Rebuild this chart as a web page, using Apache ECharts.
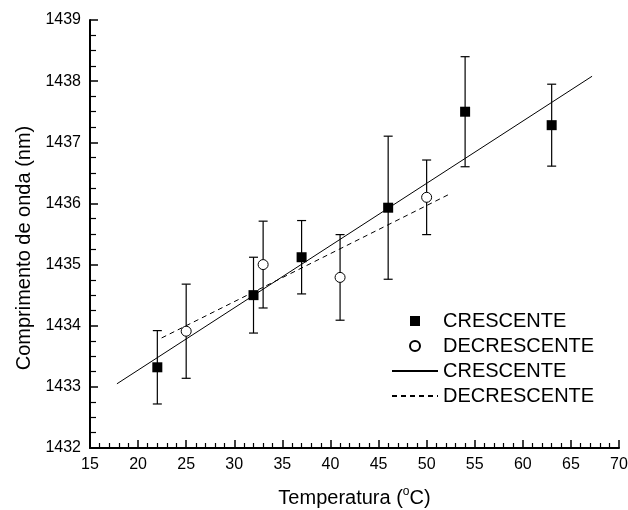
<!DOCTYPE html>
<html>
<head>
<meta charset="utf-8">
<script src="https://cdn.jsdelivr.net/npm/echarts@6/dist/echarts.min.js"></script>
<style>html,body{margin:0;padding:0;background:#fff;}#c{width:628px;height:510px;}</style>
</head>
<body>
<div id="c"></div>
<script>
// ---- data ----
const tempCres = [22, 32, 37, 46, 54, 63];
const waveCres = [1433.32, 1434.50, 1435.12, 1435.93, 1437.50, 1437.28];
const errCres  = [0.60, 0.62, 0.60, 1.17, 0.90, 0.67];

const tempDecr = [25, 33, 41, 50];
const waveDecr = [1433.91, 1435.00, 1434.79, 1436.10];
const errDecr  = [0.77, 0.71, 0.70, 0.61];

const fitCresX = [17.8, 67.2];
const fitCresY = [1433.05, 1438.08];
const fitDecrX = [22.45, 52.35];
const fitDecrY = [1433.80, 1436.15];

const xTicks = [15, 20, 25, 30, 35, 40, 45, 50, 55, 60, 65, 70];
const yTicks = [1432, 1433, 1434, 1435, 1436, 1437, 1438, 1439];

const FONT = 'Liberation Sans, Arial, sans-serif';

function pairs(xs, ys) { return xs.map((x, i) => [x, ys[i]]); }
function errData(xs, ys, es) { return xs.map((x, i) => [x, ys[i] - es[i], ys[i] + es[i]]); }

function renderErr(params, api) {
  const x = api.value(0);
  const lo = api.coord([x, api.value(1)]);
  const hi = api.coord([x, api.value(2)]);
  const hw = 4.5;
  const st = { stroke: '#000', lineWidth: 1.2 };
  return {
    type: 'group',
    children: [
      { type: 'line', shape: { x1: lo[0], y1: lo[1], x2: hi[0], y2: hi[1] }, style: st },
      { type: 'line', shape: { x1: lo[0] - hw, y1: lo[1], x2: lo[0] + hw, y2: lo[1] }, style: st },
      { type: 'line', shape: { x1: hi[0] - hw, y1: hi[1], x2: hi[0] + hw, y2: hi[1] }, style: st }
    ]
  };
}

const chart = echarts.init(document.getElementById('c'), null, { renderer: 'canvas' });

const axisCommon = {
  axisLine: { show: true, onZero: false, lineStyle: { color: '#000', width: 2 } },
  axisTick: { show: true, inside: true, length: 8, lineStyle: { color: '#000', width: 1.5 } },
  minorTick: { show: true, length: 5, lineStyle: { color: '#000', width: 1.2 } },
  splitLine: { show: false },
  axisLabel: { color: '#000', fontSize: 16, fontFamily: FONT, formatter: v => String(v) },
  nameLocation: 'middle',
  nameTextStyle: { color: '#000', fontSize: 20, fontFamily: FONT }
};

chart.setOption({
  animation: false,
  backgroundColor: '#fff',
  grid: { left: 90, right: 9, top: 20, bottom: 62, containLabel: false, outerBoundsMode: 'none' },
  xAxis: Object.assign({}, axisCommon, {
    type: 'value', min: xTicks[0], max: xTicks[xTicks.length - 1], interval: 5,
    minorTick: Object.assign({}, axisCommon.minorTick, { splitNumber: 5 }),
    axisLabel: Object.assign({}, axisCommon.axisLabel, { margin: 9 }),
    name: '{m|Temperatura (}{sup|o}{m|C)}',
    nameGap: 38,
    nameTextStyle: Object.assign({}, axisCommon.nameTextStyle, {
      rich: {
        m: { fontSize: 20, fontFamily: FONT, color: '#000', lineHeight: 22, verticalAlign: 'bottom' },
        sup: { fontSize: 12, fontFamily: FONT, color: '#000', lineHeight: 12, verticalAlign: 'top' }
      }
    })
  }),
  yAxis: Object.assign({}, axisCommon, {
    type: 'value', min: yTicks[0], max: yTicks[yTicks.length - 1], interval: 1,
    minorTick: Object.assign({}, axisCommon.minorTick, { splitNumber: 4, length: 6 }),
    axisLabel: Object.assign({}, axisCommon.axisLabel, { margin: 9 }),
    name: 'Comprimento de onda (nm)',
    nameGap: 56,
    nameTextStyle: Object.assign({}, axisCommon.nameTextStyle, { padding: [0, 28, 0, 0] })
  }),
  legend: {
    orient: 'vertical',
    left: 386, top: 306,
    itemWidth: 46, itemHeight: 10, itemGap: 5,
    textStyle: { color: '#000', fontSize: 20, fontFamily: FONT, lineHeight: 20 },
    formatter: n => n.replace(/\u200b/g, ''),
    data: [
      { name: 'CRESCENTE', icon: 'path://M0 0H10V10H0Z' },
      { name: 'DECRESCENTE', icon: 'circle' },
      { name: 'CRESCENTE\u200b', itemStyle: { color: 'transparent', borderWidth: 0, opacity: 0 } },
      { name: 'DECRESCENTE\u200b', itemStyle: { color: 'transparent', borderWidth: 0, opacity: 0 } }
    ]
  },
  series: [
    {
      type: 'custom', name: 'errC', renderItem: renderErr,
      data: errData(tempCres, waveCres, errCres), z: 2, silent: true
    },
    {
      type: 'custom', name: 'errD', renderItem: renderErr,
      data: errData(tempDecr, waveDecr, errDecr), z: 2, silent: true
    },
    {
      type: 'line', name: 'CRESCENTE\u200b', data: pairs(fitCresX, fitCresY),
      symbol: 'none', lineStyle: { color: '#000', width: 1, type: 'solid' }, itemStyle: { color: '#000' }, z: 3
    },
    {
      type: 'line', name: 'DECRESCENTE\u200b', data: pairs(fitDecrX, fitDecrY),
      symbol: 'none', lineStyle: { color: '#000', width: 1, type: [5, 4] }, itemStyle: { color: '#000' }, z: 3
    },
    {
      type: 'scatter', name: 'CRESCENTE', data: pairs(tempCres, waveCres),
      symbol: 'rect', symbolSize: 10, itemStyle: { color: '#000', opacity: 1 }, z: 5
    },
    {
      type: 'scatter', name: 'DECRESCENTE', data: pairs(tempDecr, waveDecr),
      symbol: 'circle', symbolSize: 10, itemStyle: { color: '#fff', borderColor: '#000', borderWidth: 1, opacity: 1 }, z: 5
    }
  ]
});
</script>
</body>
</html>
